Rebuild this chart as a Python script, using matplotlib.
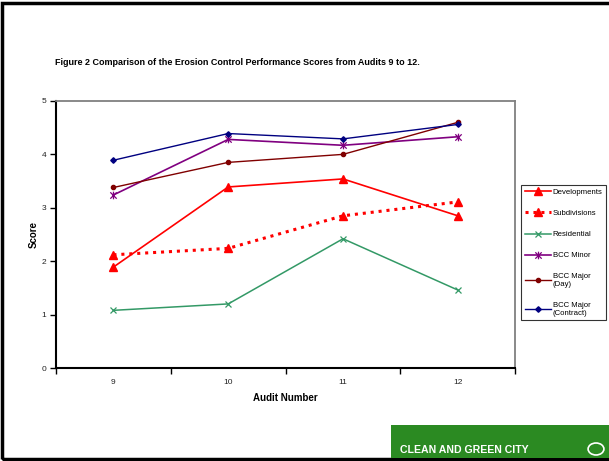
"""Erosion control performance scores, audits 9 to 12."""

import matplotlib
import matplotlib.pyplot as plt
from matplotlib.patches import Rectangle, Circle
from matplotlib.path import Path

matplotlib.use("Agg")
plt.rcParams["font.family"] = ["Liberation Sans", "DejaVu Sans"]

audits = ["9", "10", "11", "12"]
developments = [1.89, 3.39, 3.54, 2.85]
subdivisions = [2.12, 2.24, 2.85, 3.11]
residential = [1.08, 1.20, 2.42, 1.46]
bcc_minor = [3.24, 4.28, 4.17, 4.33]
bcc_major_day = [3.38, 3.85, 4.00, 4.60]
bcc_major_contract = [3.89, 4.39, 4.29, 4.56]

# Excel style "star" marker: an x with a vertical bar through it
star = Path(
    [(-1, -1), (1, 1), (-1, 1), (1, -1), (0, -1.2), (0, 1.2)],
    [Path.MOVETO, Path.LINETO, Path.MOVETO, Path.LINETO, Path.MOVETO, Path.LINETO],
)

fig = plt.figure(figsize=(6.09, 4.61), dpi=100)
ax = fig.add_axes([0.092, 0.2017, 0.754, 0.5793])
x = list(range(1, len(audits) + 1))

ax.plot(x, developments, color="#ff0000", lw=1.2, marker="^", ms=5.5, label="Developments")
ax.plot(x, subdivisions, color="#ff0000", lw=2.2, ls=(0, (1, 1.6)), marker="^", ms=5.5,
        label="Subdivisions")
ax.plot(x, residential, color="#339966", lw=1.1, marker="x", ms=5, mew=0.9, label="Residential")
ax.plot(x, bcc_minor, color="#800080", lw=1.2, marker=star, ms=5.5, mew=0.9, mfc="none",
        label="BCC Minor")
ax.plot(x, bcc_major_day, color="#800000", lw=1.0, marker="o", ms=3, label="BCC Major\n(Day)")
ax.plot(x, bcc_major_contract, color="#000080", lw=1.0, marker="D", ms=2.8,
        label="BCC Major\n(Contract)")

ax.set_xlim(0.5, len(audits) + 0.5)
ax.set_ylim(0, 5)
ax.set_yticks(range(0, 6))
ax.set_xticks(x)
ax.set_xticklabels(audits)
ax.set_xticks([i + 0.5 for i in range(0, len(audits) + 1)], minor=True)
ax.tick_params(axis="x", which="major", length=0, labelsize=6, pad=8, colors="#222222")
ax.tick_params(axis="x", which="minor", length=4, width=1, direction="out")
ax.tick_params(axis="y", length=4, width=1, direction="out", labelsize=6, pad=3,
               colors="#222222")
ax.tick_params(axis="y", color="black")

for side in ["left", "bottom"]:
    ax.spines[side].set_color("black")
    ax.spines[side].set_linewidth(1.5)
for side in ["top", "right"]:
    ax.spines[side].set_color("#808080")
    ax.spines[side].set_linewidth(1.3)

ax.set_xlabel("Audit Number", fontsize=7, fontweight="bold", labelpad=5)
ax.set_ylabel("Score", fontsize=7, fontweight="bold", labelpad=2)

fig.text(0.39, 0.865, "Figure 2 Comparison of the Erosion Control Performance Scores from Audits 9 to 12.",
         ha="center", va="center", fontsize=6.5, fontweight="bold")

leg = fig.legend(loc="center left", bbox_to_anchor=(0.856, 0.452), fontsize=5.6,
                 frameon=True, fancybox=False, edgecolor="black", handlelength=3.4,
                 handletextpad=0.2, labelspacing=1.75, borderpad=0.45, borderaxespad=0)
leg.get_frame().set_linewidth(0.8)

# page frame
fig.patches.append(Rectangle((0.004, 0.004), 1.2, 0.99, transform=fig.transFigure,
                             fill=False, lw=2.5, edgecolor="black"))

# logo strip
fig.patches.append(Rectangle((391 / 609, 3 / 461), 218 / 609, 33 / 461,
                             transform=fig.transFigure, facecolor="#2b8a22", edgecolor="none"))
fig.text(400 / 609, 11 / 461, "CLEAN AND GREEN CITY", fontsize=7.6, fontweight="bold",
         color="white", va="center")
fig.patches.append(Circle((596 / 609, 12 / 461), 0.013, transform=fig.transFigure,
                          fill=False, edgecolor="white", lw=1.2))

fig.savefig("out.png", dpi=100)
